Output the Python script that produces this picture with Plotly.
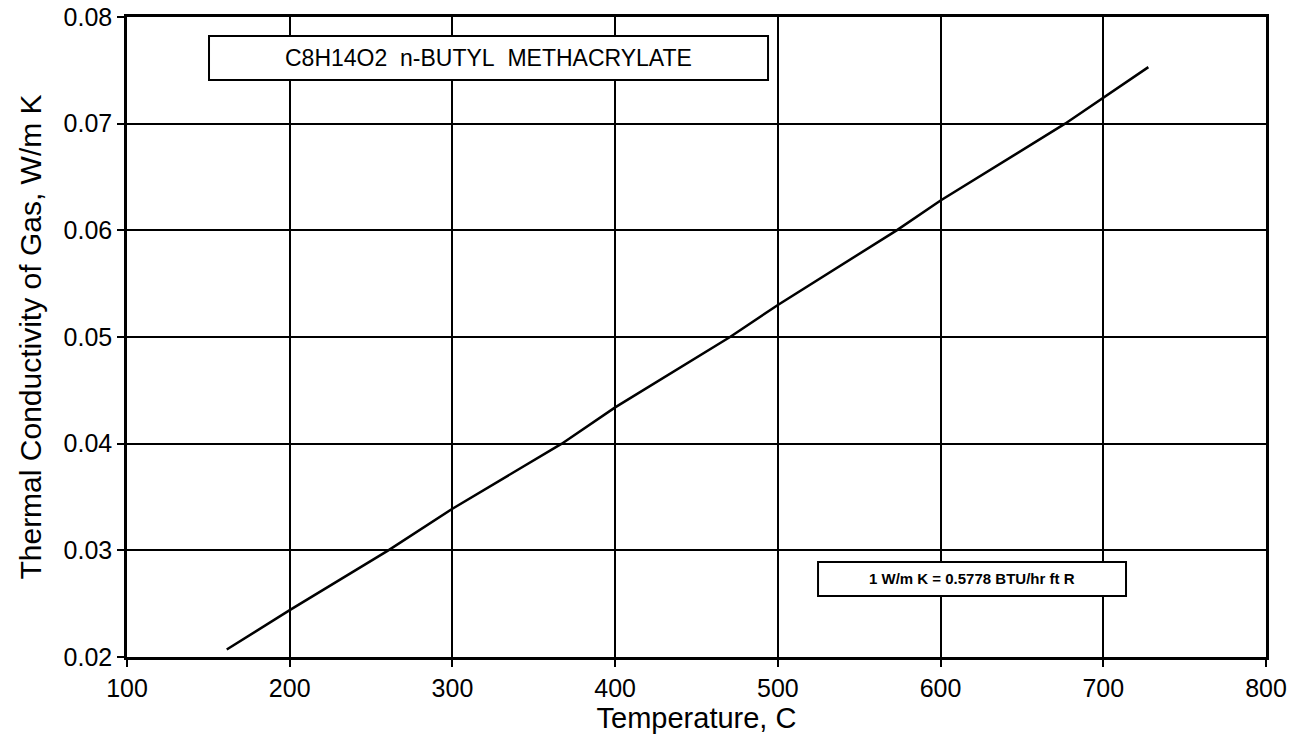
import plotly.graph_objects as go

# Data
temperature_c = [161.3, 200, 260.6, 300, 367.2, 400, 470.6, 500, 573, 600, 676.5, 700, 727.7]
conductivity = [0.0207, 0.0244, 0.0300, 0.0339, 0.0400, 0.0434, 0.0500, 0.0530, 0.0600, 0.0628, 0.0700, 0.0724, 0.0753]

x_ticks = [100, 200, 300, 400, 500, 600, 700, 800]
y_ticks = [0.02, 0.03, 0.04, 0.05, 0.06, 0.07, 0.08]

title_text = "C8H14O2&nbsp; n-BUTYL&nbsp; METHACRYLATE"
conv_text = "<b>1 W/m K = 0.5778 BTU/hr ft R</b>"

FONT = "Liberation Sans, Arial, Helvetica, sans-serif"

fig = go.Figure()
fig.add_trace(go.Scatter(
    x=temperature_c, y=conductivity, mode="lines",
    line=dict(color="black", width=2.5), showlegend=False,
))

axis_common = dict(
    showgrid=True, gridcolor="black", gridwidth=1.8,
    showline=True, linecolor="black", linewidth=2.5, mirror=True,
    ticks="outside", ticklen=7, tickwidth=2, tickcolor="black",
    zeroline=False, automargin=False, ticklabeloverflow="allow",
    tickfont=dict(family=FONT, size=25, color="black"),
)

fig.update_xaxes(
    range=[100, 800], tickvals=x_ticks,
    title=dict(text="Temperature, C", font=dict(family=FONT, size=29, color="black"), standoff=4),
    **axis_common,
)
fig.update_yaxes(
    range=[0.02, 0.08], tickvals=y_ticks, tickformat=".2f",
    title=dict(text="Thermal Conductivity of Gas, W/m K", font=dict(family=FONT, size=30, color="black"), standoff=14),
    **axis_common,
)

fig.add_shape(type="rect", xref="paper", yref="paper",
              x0=0.072, x1=0.5628, y0=0.9016, y1=0.9703,
              line=dict(color="black", width=2), fillcolor="white", layer="above")
fig.add_shape(type="rect", xref="paper", yref="paper",
              x0=0.6067, x1=0.8771, y0=0.0953, y1=0.1484,
              line=dict(color="black", width=2), fillcolor="white", layer="above")

fig.add_annotation(xref="paper", yref="paper", x=0.3174, y=0.936,
                   text=title_text, showarrow=False,
                   font=dict(family=FONT, size=23, color="black"),
                   xanchor="center", yanchor="middle")
fig.add_annotation(xref="paper", yref="paper", x=0.7419, y=0.1219,
                   text=conv_text, showarrow=False,
                   font=dict(family=FONT, size=15, color="black"),
                   xanchor="center", yanchor="middle")

fig.update_layout(
    width=1306, height=738,
    margin=dict(l=127, r=40, t=17, b=81),
    plot_bgcolor="white", paper_bgcolor="white",
    font=dict(family=FONT, color="black"),
)

fig.write_html("out.html", config={"displayModeBar": False},
               post_script="document.body.style.margin='0';")
